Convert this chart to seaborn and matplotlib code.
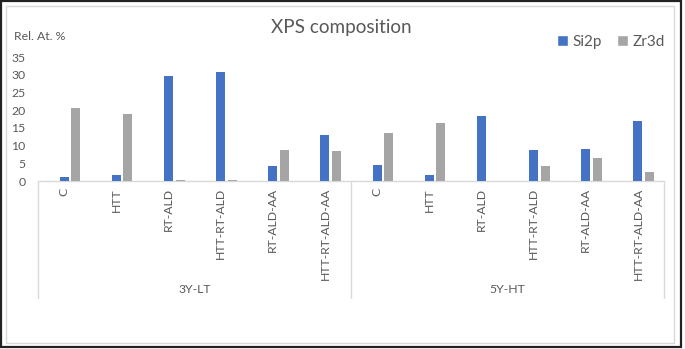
import seaborn as sns
import matplotlib
matplotlib.use("Agg")
import matplotlib.pyplot as plt
import pandas as pd
from matplotlib.patches import Rectangle, Patch

# ---- data ----
groups = ["3Y-LT", "5Y-HT"]
treatments = ["C", "HTT", "RT-ALD", "HTT-RT-ALD", "RT-ALD-AA", "HTT-RT-ALD-AA"]
si2p_3y = [1.2, 1.7, 29.5, 30.9, 4.1, 12.9]
zr3d_3y = [20.5, 18.8, 0.3, 0.4, 8.7, 8.5]
si2p_5y = [4.6, 1.7, 18.3, 8.7, 8.9, 16.8]
zr3d_5y = [13.6, 16.5, 0.0, 4.1, 6.5, 2.5]
y_ticks = [0, 5, 10, 15, 20, 25, 30, 35]

series_data = {
    "3Y-LT": {"Si2p": si2p_3y, "Zr3d": zr3d_3y},
    "5Y-HT": {"Si2p": si2p_5y, "Zr3d": zr3d_5y},
}

rows = []
keys = []
for g in groups:
    for i, t in enumerate(treatments):
        k = f"{g}|{t}"
        keys.append(k)
        rows.append({"key": k, "series": "_pad", "value": 0.0})
        for s in ["Si2p", "Zr3d"]:
            rows.append({"key": k, "series": s, "value": series_data[g][s][i]})
df = pd.DataFrame(rows)

W, H = 685, 349
sns.set_theme(style="white")
plt.rcParams["font.family"] = ["Lato", "DejaVu Sans"]
TXT = "#595959"
LINE = "#D9D9D9"

fig = plt.figure(figsize=(W / 100, H / 100), dpi=100)
fig.patch.set_facecolor("white")
ax = fig.add_axes([38 / W, (H - 181) / H, (664 - 38) / W, (181 - 57) / H])

palette = {"_pad": "white", "Si2p": "#4472C4", "Zr3d": "#A5A5A5"}
sns.barplot(data=df, x="key", y="value", hue="series",
            hue_order=["_pad", "Si2p", "Zr3d"], order=keys,
            palette=palette, width=0.67, gap=0.23, errorbar=None,
            legend=False, linewidth=0, saturation=1, ax=ax)

ax.set_ylim(0, 35)
ax.set_xlim(-0.5, len(keys) - 0.5)
ax.set_yticks(y_ticks)
ax.set_yticklabels([str(v) for v in y_ticks])
ax.set_xticks(range(len(keys)))
ax.set_xticklabels([k.split("|")[1] for k in keys], rotation=90, va="top")
ax.tick_params(axis="x", length=0, pad=5, labelsize=8.8, labelcolor=TXT)
ax.tick_params(axis="y", length=0, pad=9, labelsize=8.8, labelcolor=TXT)
ax.set_xlabel("")
ax.set_ylabel("")
for sp in ax.spines.values():
    sp.set_visible(False)
ax.grid(False)

# baseline and group separators
ax.axhline(0, color=LINE, lw=1, clip_on=False, zorder=0.5)
xt = ax.get_xaxis_transform()
for xpos in [-0.5, 5.5, 11.5]:
    ax.plot([xpos, xpos], [0, -0.944], transform=xt, clip_on=False,
            color=LINE, lw=1)
for gi, g in enumerate(groups):
    ax.text(gi * 6 + 2.5, -0.871, g, transform=xt, ha="center", va="center",
            fontsize=8.8, color=TXT)

# texts
fig.text(341 / W, 1 - 28 / H, "XPS composition", ha="center", va="center",
         fontsize=13.6, color=TXT)
fig.text(14 / W, 1 - 37 / H, "Rel. At. %", ha="left", va="center",
         fontsize=8.8, color=TXT)

handles = [Patch(facecolor="#4472C4"), Patch(facecolor="#A5A5A5")]
fig.legend(handles, ["Si2p", "Zr3d"], loc="center",
           bbox_to_anchor=(611 / W, 1 - 42 / H), ncol=2, frameon=False,
           handlelength=0.7, handleheight=0.7, columnspacing=1.0,
           handletextpad=0.3, fontsize=11, labelcolor=TXT)

# borders
fig.add_artist(Rectangle((1 / W, 2 / H), 680 / W, 346 / H, transform=fig.transFigure,
                         fill=False, edgecolor="#222222", lw=1.6))
fig.add_artist(Rectangle((5.5 / W, 6 / H), 668 / W, 337.5 / H, transform=fig.transFigure,
                         fill=False, edgecolor=LINE, lw=1))

fig.savefig("out.png", dpi=100, facecolor="white")
